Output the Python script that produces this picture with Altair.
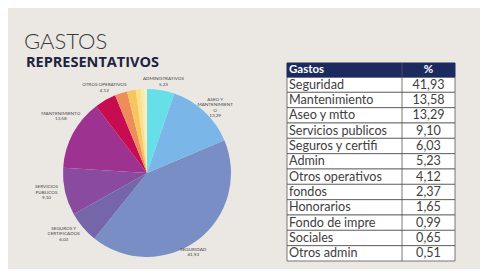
import altair as alt
import pandas as pd

# ---- data ----
gastos = ["Seguridad", "Mantenimiento", "Aseo y mtto", "Servicios publicos",
          "Seguros y certifi", "Admin", "Otros operativos", "fondos",
          "Honorarios", "Fondo de impre", "Sociales", "Otros admin"]
pct = [41.93, 13.58, 13.29, 9.10, 6.03, 5.23, 4.12, 2.37, 1.65, 0.99, 0.65, 0.51]
pie_labels = ["SEGURIDAD\n41,93", "MANTENIMIENTO\n13,58",
              "ASEO Y\nMANTENIMIENT\nO\n13,29", "SERVICIOS\nPUBLICOS\n9,10",
              "SEGUROS Y\nCERTIFICADOS\n6,03", "ADMINISTRATIVOS\n5,23",
              "OTROS OPERATIVOS\n4,12", "", "", "", "", ""]
pie_order = [3, 6, 2, 5, 4, 1, 7, 8, 9, 10, 11, 12]
colors = ["#7a8ec6", "#9e3290", "#7ab6e8", "#8a4a9e", "#7466a8", "#66dfe8",
          "#c70c52", "#ee8d5a", "#f7c45e", "#fbe08c", "#fbe9a8", "#fcefc0"]
title1 = "GASTOS"
title2 = "REPRESENTATIVOS"
header = ["Gastos", "%"]

df = pd.DataFrame({"gasto": gastos, "pct": pct, "label": pie_labels,
                   "ord": pie_order, "row": list(range(len(gastos)))})
df["row2"] = df["row"] + 1

BG = "#ebe8e4"
CX, CY = 139, 165
FONT = "Lato"

color = alt.Color("gasto:N", scale=alt.Scale(domain=gastos, range=colors), legend=None)

pie = alt.Chart(df).mark_arc(outerRadius=84).encode(
    theta=alt.Theta("pct:Q", stack=True),
    order=alt.Order("ord:Q"),
    color=color,
    x=alt.value(CX), y=alt.value(CY),
)

# label nudges (style only)
nudges = {"Admin": (0, 5), "Aseo y mtto": (0, 0), "Seguridad": (-14, -3),
          "Seguros y certifi": (-7, -9), "Servicios publicos": (-3, -8),
          "Mantenimiento": (2, -12), "Otros operativos": (7, -1)}
label_layers = []
for name, (ddx, ddy) in nudges.items():
    label_layers.append(
        alt.Chart(df).transform_calculate(
            t=f"datum.gasto == '{name}' ? datum.label : ''"
        ).mark_text(
            radius=100, fontSize=4.6, lineBreak="\n", lineHeight=5.5, dx=ddx, dy=ddy,
            color="#444444", font=FONT, baseline="middle", align="center"
        ).encode(
            theta=alt.Theta("pct:Q", stack=True),
            order=alt.Order("ord:Q"),
            text="t:N",
            x=alt.value(CX), y=alt.value(CY),
        )
    )

one = alt.Data(values=[{"a": 1}])
t1 = alt.Chart(one).mark_text(
    text=title1, fontSize=22, fontWeight=300, font=FONT, color="#3a3a3a",
    align="left", baseline="alphabetic"
).encode(x=alt.value(16), y=alt.value(41))
t2 = alt.Chart(one).mark_text(
    text=title2, fontSize=14.5, fontWeight="bold", font="Open Sans", color="#1e2440",
    align="left", baseline="alphabetic"
).encode(x=alt.value(18), y=alt.value(59))

TX0, TX1, TDIV = 279, 447, 394
TY0, TH, TY1 = 55, 69, 253
yscale = alt.Scale(domain=[0, 12], range=[TH, TY1])

rows = alt.Chart(df).mark_rect(fill="white", stroke="#555555", strokeWidth=0.8).encode(
    x=alt.value(TX0), x2=alt.value(TX1),
    y=alt.Y("row:Q", scale=yscale, axis=None), y2="row2:Q",
)
head = alt.Chart(one).mark_rect(fill="#1c2b5e", stroke="#1c2b5e").encode(
    x=alt.value(TX0), x2=alt.value(TX1), y=alt.value(TY0), y2=alt.value(TH))
divider = alt.Chart(one).mark_rule(color="#555555", strokeWidth=0.8).encode(
    x=alt.value(TDIV), y=alt.value(TY0), y2=alt.value(TY1))
h1 = alt.Chart(one).mark_text(text=header[0], color="white", fontWeight="bold", fontSize=11.5,
                              font=FONT, align="left", baseline="middle").encode(
    x=alt.value(TX0 + 2), y=alt.value((TY0 + TH) / 2))
h2 = alt.Chart(one).mark_text(text=header[1], color="white", fontWeight="bold", fontSize=11.5,
                              font=FONT, align="center", baseline="middle").encode(
    x=alt.value((TDIV + TX1) / 2), y=alt.value((TY0 + TH) / 2))

txt_l = alt.Chart(df).transform_calculate(mid="datum.row + 0.5").mark_text(
    fontSize=12.6, font=FONT, color="#404040", align="left", baseline="middle"
).encode(x=alt.value(TX0 + 2), y=alt.Y("mid:Q", scale=yscale, axis=None), text="gasto:N")
txt_r = alt.Chart(df).transform_calculate(
    mid="datum.row + 0.5", v="replace(format(datum.pct, '.2f'), '.', ',')"
).mark_text(
    fontSize=12.6, font=FONT, color="#404040", align="center", baseline="middle"
).encode(x=alt.value((TDIV + TX1) / 2), y=alt.Y("mid:Q", scale=yscale, axis=None), text="v:N")

chart = alt.layer(pie, *label_layers, t1, t2, rows, head, divider, h1, h2, txt_l, txt_r).properties(
    width=472, height=261, background=BG, padding=0,
    autosize=alt.AutoSizeParams(type="none"),
).configure_view(strokeWidth=0)

chart.save("out.html", embed_options={"renderer": "svg", "actions": False})
